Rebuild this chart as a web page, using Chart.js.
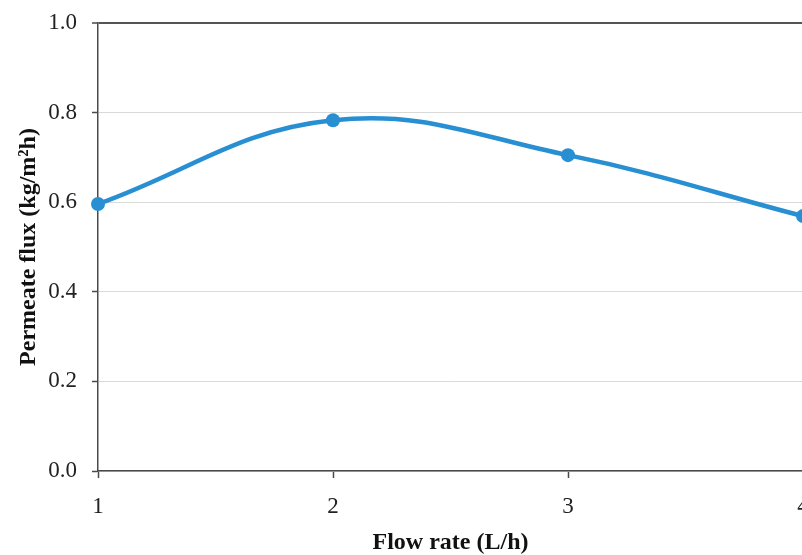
<!DOCTYPE html>
<html>
<head>
<meta charset="utf-8">
<script src="https://cdn.jsdelivr.net/npm/chart.js@4"></script>
<style>
  html, body { margin: 0; padding: 0; background: #fff; overflow: hidden; }
  #wrap { width: 810px; height: 555px; }
</style>
</head>
<body>
<div id="wrap"><canvas id="fluxChart" width="810" height="555"></canvas></div>
<script>
// data
const flowRates = [1, 2, 3, 4];
const permeateFlux = [0.596, 0.783, 0.705, 0.569];
const yTicks = [0, 0.2, 0.4, 0.6, 0.8, 1.0];

const lineBlue = 'rgb(40, 143, 210)';
const axisDark = '#4a4a4a';

const ctx = document.querySelector('#fluxChart').getContext('2d');
const fluxChart = new Chart(ctx, {
    type: 'line',
    data: {
        datasets: [{
            data: flowRates.map((x, i) => ({ x: x, y: permeateFlux[i] })),
            borderColor: lineBlue,
            backgroundColor: lineBlue,
            borderWidth: 4.5,
            pointRadius: 7,
            pointHoverRadius: 7,
            pointBorderWidth: 0,
            tension: 0.4,
            clip: false
        }]
    },
    options: {
        responsive: false,
        animation: false,
        layout: { padding: { top: 23, right: 7, bottom: 0, left: 0 } },
        plugins: {
            legend: { display: false },
            tooltip: { enabled: false }
        },
        scales: {
            x: {
                type: 'linear',
                min: 1,
                max: 4,
                afterBuildTicks: (scale) => { scale.ticks = flowRates.map(v => ({ value: v })); },
                afterFit: (scale) => {
                    scale.height = 84;
                    scale.paddingLeft = 0;
                    scale.paddingRight = 0;
                },
                ticks: {
                    color: '#222',
                    padding: 15,
                    font: { family: 'Liberation Serif', size: 23 }
                },
                grid: {
                    drawOnChartArea: false,
                    drawTicks: true,
                    tickLength: 7,
                    tickColor: axisDark,
                    tickWidth: 1.5
                },
                border: { color: axisDark, width: 1.5 },
                title: {
                    display: true,
                    text: 'Flow rate (L/h)',
                    color: '#111',
                    padding: { top: 0, bottom: 0 },
                    font: { family: 'Liberation Serif', size: 24, weight: 'bold', lineHeight: 1 }
                }
            },
            y: {
                min: 0,
                max: 1.0,
                afterBuildTicks: (scale) => { scale.ticks = yTicks.map(v => ({ value: v })); },
                afterFit: (scale) => {
                    scale.width = 98;
                    scale.paddingTop = 0;
                    scale.paddingBottom = 0;
                },
                ticks: {
                    color: '#222',
                    padding: 15,
                    callback: (v) => v.toFixed(1),
                    font: { family: 'Liberation Serif', size: 23 }
                },
                grid: {
                    color: (c) => (c.tick && c.tick.value === 1 ? '#555' : '#d9d9d9'),
                    lineWidth: (c) => (c.tick && c.tick.value === 1 ? 2 : 1),
                    tickLength: 6,
                    tickColor: axisDark,
                    tickWidth: 1.5
                },
                border: { color: axisDark, width: 1.5 },
                title: {
                    display: true,
                    text: 'Permeate flux (kg/m²h)',
                    color: '#111',
                    padding: { top: 14, bottom: 0 },
                    font: { family: 'Liberation Serif', size: 24, weight: 'bold', lineHeight: 1.2 }
                }
            }
        }
    }
});
</script>
</body>
</html>
